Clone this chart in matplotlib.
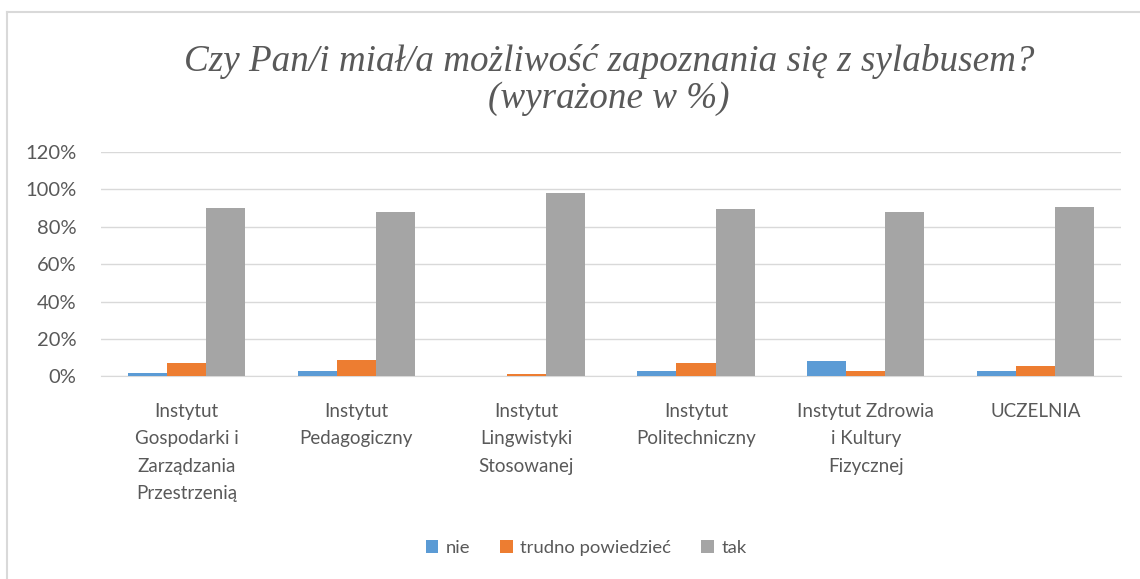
import matplotlib.pyplot as plt
import numpy as np
from matplotlib.lines import Line2D

categories = [
    "Instytut\nGospodarki i\nZarządzania\nPrzestrzenią",
    "Instytut\nPedagogiczny",
    "Instytut\nLingwistyki\nStosowanej",
    "Instytut\nPolitechniczny",
    "Instytut Zdrowia\ni Kultury\nFizycznej",
    "UCZELNIA",
]
nie = [2, 3, 0, 3, 8, 3]
trudno = [7, 9, 1, 7, 3, 5.5]
tak = [90, 88, 98, 89.5, 88, 90.5]

series = [("nie", nie, "#5B9BD5"), ("trudno powiedzieć", trudno, "#ED7D31"), ("tak", tak, "#A5A5A5")]

plt.rcParams["font.family"] = ["Lato", "DejaVu Sans"]

fig = plt.figure(figsize=(11.4, 5.79), dpi=100)
ax = fig.add_axes([0.089, 0.35, 0.894, 0.3875])

x = np.arange(len(categories))
w = 0.23
for i, (name, vals, col) in enumerate(series):
    ax.bar(x + (i - 1) * w, vals, w, color=col, label=name, zorder=3)

ax.set_xlim(-0.5, len(categories) - 0.5)
ax.set_ylim(0, 120)
ax.set_yticks(range(0, 121, 20))
ax.set_yticklabels([f"{v}%" for v in range(0, 121, 20)])
ax.set_xticks(x)
ax.set_xticklabels(categories, linespacing=1.75)
ax.grid(axis="y", color="#D9D9D9", linewidth=1, zorder=0)
for s in ["top", "right", "left"]:
    ax.spines[s].set_visible(False)
ax.spines["bottom"].set_color("#D9D9D9")
ax.tick_params(axis="both", length=0, colors="#595959")
ax.tick_params(axis="x", pad=19, labelsize=13.5)
ax.tick_params(axis="y", pad=18, labelsize=14.5)

fig.text(0.534, 0.862, "Czy Pan/i miał/a możliwość zapoznania się z sylabusem?\n(wyrażone w %)",
         ha="center", va="center", fontsize=26.7, style="italic",
         family=["Liberation Serif", "DejaVu Serif"], color="#595959", linespacing=1.1)

fig.legend(loc="center", bbox_to_anchor=(0.514, 0.053), ncol=3, frameon=False,
           fontsize=13.3, handlelength=0.7, handleheight=0.7, handletextpad=0.4,
           columnspacing=1.6, labelcolor="#595959")

# chart border: only top and left edges visible in the crop
fig.lines.append(Line2D([7 / 1140, 1], [1 - 12 / 579] * 2, transform=fig.transFigure,
                        color="#D9D9D9", linewidth=1.5))
fig.lines.append(Line2D([7 / 1140] * 2, [0, 1 - 12 / 579], transform=fig.transFigure,
                        color="#D9D9D9", linewidth=1.5))

fig.savefig("out.png", dpi=100)
